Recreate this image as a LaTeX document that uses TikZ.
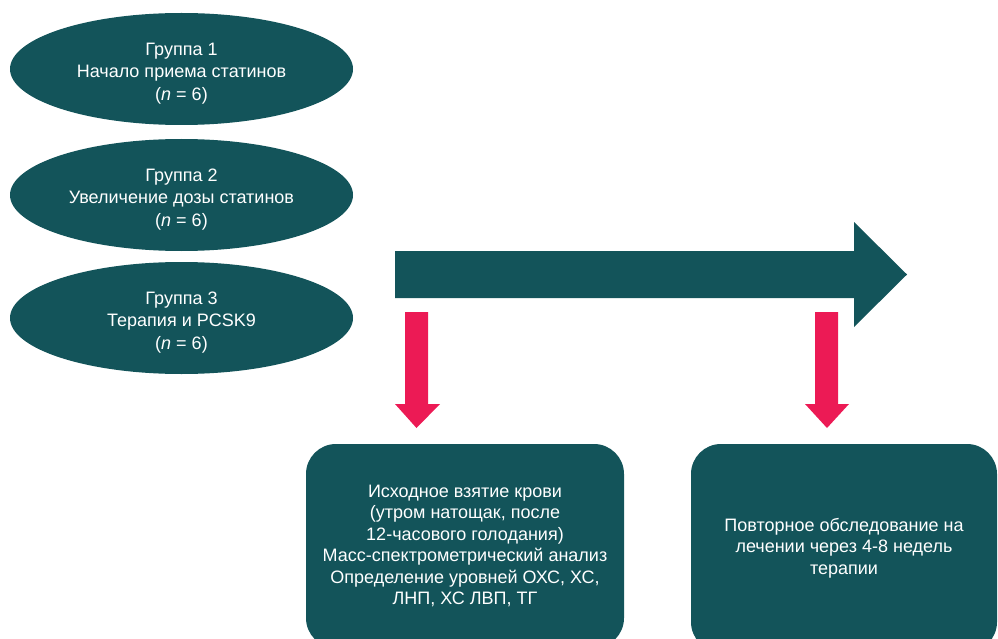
\documentclass[tikz,border=0pt]{standalone}
\usepackage{fontspec}
\setmainfont{Liberation Sans}
\usetikzlibrary{shapes.geometric}
\definecolor{darkteal}{RGB}{19,84,90}
\definecolor{rosered}{RGB}{236,26,85}
\tikzset{
  grptext/.style={text=white, inner sep=0pt, align=center, yshift=-4.5pt,
    font=\fontsize{18}{22.5}\selectfont},
  grp/.style={ellipse, fill=darkteal, inner sep=0pt,
    minimum width=343pt, minimum height=112pt,
    label={[grptext]center:{#1}}},
  stagebox/.style={rectangle, rounded corners=30pt, fill=darkteal, text=white,
    inner sep=0pt, minimum width=318pt, minimum height=204pt, align=center,
    font=\fontsize{18}{21.5}\selectfont},
  pointer/.style={fill=rosered}
}
\begin{document}
\begin{tikzpicture}[x=1pt,y=-1pt]
\path[use as bounding box, clip] (0,0) rectangle (998,639);

\node[grp={Группа 1\\Начало приема статинов\\(\textit{n} = 6)}] (g1) at (181.5,69) {};
\node[grp={Группа 2\\Увеличение дозы статинов\\(\textit{n} = 6)}] (g2) at (181.5,195) {};
\node[grp={Группа 3\\Терапия и PCSK9\\(\textit{n} = 6)}] (g3) at (181.5,318) {};

\fill[darkteal] (395,251) -- (854,251) -- (854,222) -- (907,274.5) -- (854,327) -- (854,298) -- (395,298) -- cycle;

\node[stagebox] (base) at (465,546) {Исходное взятие крови\\(утром натощак, после\\12-часового голодания)\\Масс-спектрометрический анализ\\Определение уровней ОХС, ХС,\\ЛНП, ХС ЛВП, ТГ};
\node[stagebox, minimum width=306pt, minimum height=208pt] (repeat) at (844,548) {Повторное обследование на\\лечении через 4-8 недель\\терапии};

\fill[pointer] (405,312) -- (428,312) -- (428,404) -- (440,404) -- (416.5,428) -- (395,404) -- (405,404) -- cycle;
\fill[pointer] (815,312) -- (838,312) -- (838,404) -- (849,404) -- (827,428) -- (805,404) -- (815,404) -- cycle;

\end{tikzpicture}
\end{document}
